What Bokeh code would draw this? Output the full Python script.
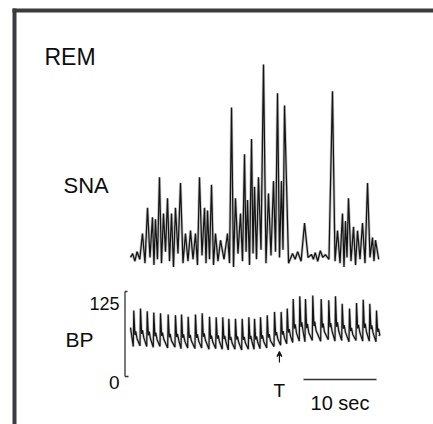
from bokeh.plotting import figure
from bokeh.models import Range1d, Label, BoxAnnotation, Arrow, VeeHead
from bokeh.embed import file_html
from bokeh.resources import INLINE

# ---- data -------------------------------------------------------------
# Sympathetic nerve activity: burst peak times (s) and heights (% of largest burst)
sna_peak_t = [0.3, 0.9, 1.64, 2.33, 3.01, 3.42, 3.97, 4.52, 5.07, 5.62, 6.16, 6.85,
              7.53, 8.22, 8.90, 9.45, 10.14, 10.55, 11.10, 11.64, 12.33, 13.29,
              13.84, 14.38, 15.07, 15.62, 16.03, 16.58, 16.99, 17.53, 18.22, 18.90,
              19.59, 20.14, 20.68, 21.10, 22.2, 22.9, 23.84, 24.8, 25.3, 26.0, 26.7,
              27.67, 28.36, 29.04, 29.45, 29.86, 30.55, 31.10, 31.78, 32.47, 33.15,
              33.56]
sna_peak_v = [1, 2, 11.5, 25, 20, 19, 41, 22, 30, 22, 25, 38,
              11.5, 13, 11.5, 41, 25, 23.5, 37, 11.5, 8, 11.5,
              77.5, 30, 22, 53, 29, 61, 36, 41, 100, 32.5,
              39, 85, 39, 78.5, 1, 2, 17, 0.5, 1.5, 2.5, 0.5,
              86, 13, 22, 18, 30, 15, 13, 17, 38, 9.4, 8]
# Trace minima before, between and after the bursts
sna_trough_v = [-1, -3, -2, -4, -1, -5, -2, -4, 2, -3,
                -6, 1, -4, -3, -2, -5, 0, -4, -2, -5,
                -3, -2, -4, -6, 1, -3, 2, -5, 1, -2,
                3, -4, 0, 2, -1, 3, -4, -2, -3, -1,
                -2, -3, -1, -2, -3, -4, -6, -1, -3, -5,
                -2, -4, -1, -3, -2]
sna_start_t, sna_end_t = 0.0, 34.0

# Arterial blood pressure (mmHg): systolic peak time, systolic and diastolic values per beat
bp_t = [0.45, 1.37, 2.29, 3.19, 4.11, 5.16, 6.16, 6.99, 7.90, 8.90, 9.82, 10.82,
        11.74, 12.64, 13.47, 14.38, 15.30, 16.21, 16.99, 17.81, 18.73, 19.73,
        20.64, 21.47, 22.29, 23.19, 23.97, 24.97, 26.12, 27.16, 28.08, 29.00,
        30.00, 30.96, 31.88, 32.78, 33.70]
bp_sys = [97, 100, 96, 94, 93, 91, 90, 91, 88, 91, 93, 88,
          87, 87, 85, 85, 85, 87, 85, 87, 90, 95,
          95, 100, 114, 118, 114, 119, 114, 112, 118, 107,
          100, 108, 113, 107, 97]
bp_dia = [44, 45, 44, 43, 44, 42, 43, 41, 42, 41, 42, 40,
          41, 40, 39, 40, 39, 40, 40, 41, 42, 44,
          46, 48, 50, 52, 51, 53, 52, 54, 52, 53,
          51, 53, 52, 52, 51]
bp_start = (0.0, 72)
bp_end = (34.0, 60)
bp_scale_ticks = [0, 125]
bp_scale_labels = ["0", "125"]

event_time = 20.4          # "T" marker
event_label = "T"
scale_bar_start = 23.7     # time scale bar
scale_bar_len = 10
scale_bar_label = "10 sec"

# ---- page geometry (pixels -> data) -----------------------------------
W, H = 433, 424
X0, PX_PER_S = 130.0, 7.3          # time axis
SNA_BASE, PX_PER_SNA = 255.0, 1.91  # SNA axis
BP_ZERO, PX_PER_MMHG = 376.0, 0.68  # BP axis


def tx(px):
    return (px - X0) / PX_PER_S


def sy(py):
    return (SNA_BASE - py) / PX_PER_SNA


def by(py):
    return (BP_ZERO - py) / PX_PER_MMHG


p = figure(width=W, height=H, output_backend="svg", toolbar_location=None,
           x_range=Range1d(tx(0), tx(W)), y_range=Range1d(sy(H), sy(0)),
           min_border=0, outline_line_color=None, background_fill_color="white",
           border_fill_color="white")
p.axis.visible = False
p.grid.visible = False
p.extra_y_ranges = {"bp": Range1d(by(H), by(0))}

# ---- SNA trace ---------------------------------------------------------
trough_t = [sna_start_t] + [(a + b) / 2 for a, b in zip(sna_peak_t[:-1], sna_peak_t[1:])] + [sna_end_t]
sx, sv = [trough_t[0]], [sna_trough_v[0]]
for i, (t, v) in enumerate(zip(sna_peak_t, sna_peak_v)):
    sx += [t, trough_t[i + 1]]
    sv += [v, sna_trough_v[i + 1]]

# ---- BP trace: steep upstroke, quick fall to the dicrotic notch, slow run-off
bx, bv = [bp_start[0]], [bp_start[1]]
for t, s, d in zip(bp_t, bp_sys, bp_dia):
    pulse = s - d
    bx += [t - 0.07, t, t + 0.16, t + 0.27, t + 0.45]
    bv += [d, s, d + 0.32 * pulse, d + 0.42 * pulse, d + 0.22 * pulse]
bx.append(bp_end[0])
bv.append(bp_end[1])

ink = "#141414"
# soft under-stroke gives the recorded ink its slightly smeared look
p.line(sx, sv, line_color="#555555", line_width=2.8, line_alpha=0.35)
p.line(sx, sv, line_color=ink, line_width=1.25)
p.line(bx, bv, line_color="#555555", line_width=2.6, line_alpha=0.35, y_range_name="bp")
p.line(bx, bv, line_color=ink, line_width=1.2, y_range_name="bp")

# BP calibration bar with end ticks
ax_x = tx(124.5)
p.segment(x0=[ax_x], y0=[bp_scale_ticks[0]], x1=[ax_x], y1=[bp_scale_ticks[1]],
          line_color="#333333", line_width=1.3, y_range_name="bp")
p.segment(x0=[ax_x, ax_x], y0=bp_scale_ticks, x1=[tx(128), tx(127)], y1=bp_scale_ticks,
          line_color="#333333", line_width=1.3, y_range_name="bp")

# time scale bar
bar_y = by(379)
p.segment(x0=[scale_bar_start], y0=[bar_y], x1=[scale_bar_start + scale_bar_len], y1=[bar_y],
          line_color="#333333", line_width=1.5, y_range_name="bp")

# event arrow
p.add_layout(Arrow(x_start=event_time, y_start=sy(362), x_end=event_time, y_end=sy(351),
                   line_color=ink, line_width=1.2,
                   end=VeeHead(size=5, line_color=ink, line_width=1.2, fill_color=ink)))

# frame (left and top edges)
frame_col = "#3b3b3f"
p.add_layout(BoxAnnotation(left=tx(12), right=tx(16), top=sy(8), bottom=sy(H),
                           fill_color=frame_col, fill_alpha=1, line_color=None))
p.add_layout(BoxAnnotation(left=tx(12), right=tx(W), top=sy(8), bottom=sy(12),
                           fill_color=frame_col, fill_alpha=1, line_color=None))

# texts
font = "Liberation Sans"


def label(text, px, py, size, align="left"):
    p.add_layout(Label(x=tx(px), y=sy(py), text=text, text_font=font,
                       text_font_size=f"{size}px", text_color="#0d0d0d",
                       text_align=align, text_baseline="alphabetic"))


label("REM", 44, 56, 23)
label("SNA", 63, 185, 22)
label("BP", 65, 339, 21)
label(bp_scale_labels[1], 119, 303, 18, "right")
label(bp_scale_labels[0], 119, 382, 19, "right")
label(event_label, (event_time * PX_PER_S) + X0, 390, 19, "center")
label(scale_bar_label, (scale_bar_start + scale_bar_len / 2) * PX_PER_S + X0, 402, 20, "center")

open("out.html", "w").write(file_html(p, INLINE))
